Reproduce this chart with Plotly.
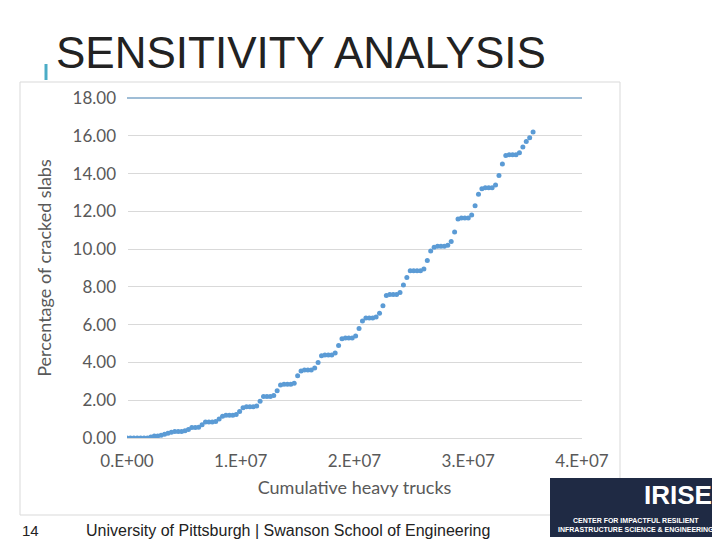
import plotly.graph_objects as go

# cumulative heavy trucks (units of 1e5)
trucks_1e5 = [0,3,6,9,12,15,18,21,24,27,30,33,36,39,42,45,48,51,54,57,60,63,66,69,72,75,78,81,84,87,90,93,96,99,
              102,105,108,111,114,117,120,123,126,129,132,135,138,141,144,147,150,153,156,159,162,165,168,171,174,177,
              180,183,186,189,192,195,198,201,204,207,210,213,216,219,222,225,228,231,234,237,240,243,246,249,252,255,
              258,261,264,267,270,273,276,279,282,285,288,291,294,297,300,303,306,309,312,315,318,321,324,327,330,333,
              336,339,342,345,348,351,354,357]
cracked = [0,0,0,0,0,0,0,0.05,0.1,0.1,0.15,0.2,0.25,0.3,0.35,0.35,0.35,0.38,0.45,0.55,0.55,0.57,0.7,0.85,0.85,0.85,0.88,
           1.0,1.15,1.2,1.2,1.2,1.25,1.4,1.6,1.65,1.65,1.65,1.7,1.95,2.2,2.2,2.2,2.25,2.5,2.8,2.85,2.85,2.85,2.9,
           3.3,3.55,3.6,3.6,3.6,3.7,4.0,4.35,4.4,4.4,4.4,4.5,4.9,5.25,5.3,5.3,5.3,5.4,5.8,6.2,6.35,6.35,6.35,6.4,6.6,
           7.0,7.55,7.6,7.6,7.6,7.7,8.1,8.5,8.85,8.85,8.85,8.85,8.95,9.4,9.9,10.1,10.15,10.15,10.15,10.2,10.4,
           10.9,11.6,11.65,11.65,11.65,11.8,12.3,12.9,13.2,13.25,13.25,13.25,13.4,13.9,14.5,14.95,15.0,15.0,15.0,15.1,
           15.4,15.7,15.9,16.2]
x_ticks = [0, 1e7, 2e7, 3e7, 4e7]
x_labels = ["0.E+00", "1.E+07", "2.E+07", "3.E+07", "4.E+07"]
y_ticks = [0, 2, 4, 6, 8, 10, 12, 14, 16, 18]

x = [v * 1e5 for v in trucks_1e5]

def fx(sx):
    return (sx - 127) / 455.0

def fy(sy):
    return (438 - sy) / 340.0

fig = go.Figure(go.Scatter(x=x, y=cracked, mode="markers",
                           marker=dict(color="#5B9BD5", size=5)))
fig.update_layout(
    width=720, height=540, paper_bgcolor="white", plot_bgcolor="white",
    margin=dict(l=119, r=146, t=90, b=110), showlegend=False,
    font=dict(family="Lato, sans-serif", color="#595959"),
    xaxis=dict(range=[0, 4e7], tickvals=x_ticks, ticktext=x_labels, showgrid=False,
               showline=True, linecolor="#D9D9D9", ticks="", tickfont=dict(size=17),
               ticklabelstandoff=8,
               title=dict(text="Cumulative heavy trucks", font=dict(size=18), standoff=10)),
    yaxis=dict(range=[0, 18], tickvals=y_ticks, tickformat=".2f", gridcolor="#D9D9D9",
               zeroline=False, ticks="", tickfont=dict(size=17), ticklabelstandoff=10,
               title=dict(text="Percentage of cracked slabs", font=dict(size=18), standoff=16)),
    shapes=[
        dict(type="rect", xref="paper", yref="paper", x0=fx(20), x1=fx(620), y0=fy(515), y1=fy(82),
             line=dict(color="#D9D9D9", width=1)),
        dict(type="line", xref="paper", yref="paper", x0=0, x1=1, y0=1, y1=1,
             line=dict(color="#7FA7C9", width=1.5)),
        dict(type="line", xref="paper", yref="paper", x0=fx(46), x1=fx(46), y0=fy(80), y1=fy(64),
             line=dict(color="#4BACC6", width=3)),
        dict(type="rect", xref="paper", yref="paper", x0=fx(550), x1=fx(720), y0=fy(537), y1=fy(478),
             fillcolor="#1F2A44", line=dict(width=0)),
    ],
    annotations=[
        dict(text="SENSITIVITY ANALYSIS", xref="paper", yref="paper", x=fx(54), y=fy(52),
             xanchor="left", yanchor="middle", showarrow=False,
             font=dict(family="Liberation Sans, Arial", size=44, color="#222222")),
        dict(text="14", xref="paper", yref="paper", x=fx(20), y=fy(530), xanchor="left",
             yanchor="middle", showarrow=False, font=dict(family="Liberation Sans", size=15, color="#222")),
        dict(text="University of Pittsburgh | Swanson School of Engineering", xref="paper", yref="paper",
             x=fx(288), y=fy(530), xanchor="center", yanchor="middle", showarrow=False,
             font=dict(family="Liberation Sans", size=16, color="#222")),
        dict(text="<b>IRISE</b>", xref="paper", yref="paper", x=fx(678), y=fy(495), xanchor="center",
             yanchor="middle", showarrow=False, font=dict(family="Liberation Sans", size=26, color="white")),
        dict(text="<b>CENTER FOR IMPACTFUL RESILIENT<br>INFRASTRUCTURE SCIENCE & ENGINEERING</b>",
             xref="paper", yref="paper", x=fx(636), y=fy(525), xanchor="center", yanchor="middle",
             showarrow=False, font=dict(family="Liberation Sans", size=7, color="white")),
    ],
)
fig.write_html("out.html")
